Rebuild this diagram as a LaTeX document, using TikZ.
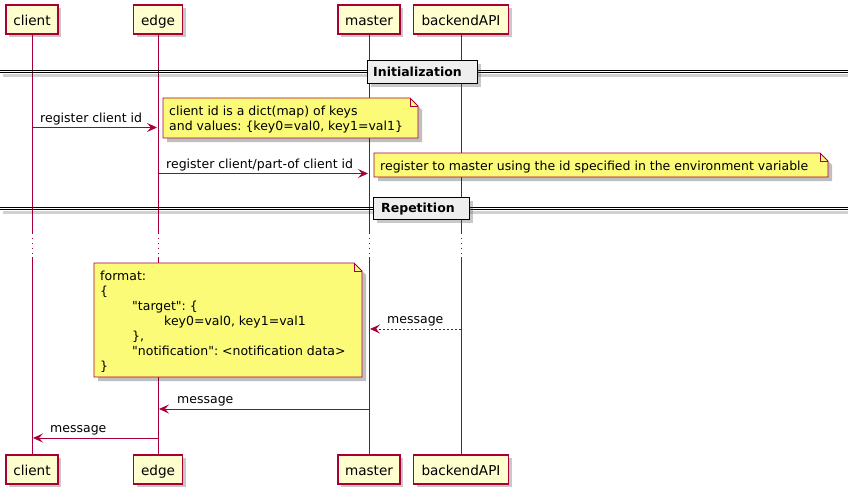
\documentclass[tikz,border=0pt]{standalone}
\usepackage{fontspec}
\setmainfont{DejaVu Sans}[Ligatures=TeXOff]
\usetikzlibrary{arrows.meta,shadows}
\definecolor{pborder}{HTML}{A80036}
\definecolor{pfill}{HTML}{FEFECE}
\definecolor{nfill}{HTML}{FBFB77}
\definecolor{dfill}{HTML}{EEEEEE}
\frenchspacing
\tikzset{
  sh/.style={drop shadow={shadow xshift=3pt, shadow yshift=-3pt, opacity=0.3, fill=black!70}},
  pbox/.style={draw=pborder, line width=1.2pt, fill=pfill, inner sep=0pt, minimum height=29pt,
    text height=12.4pt, text depth=0pt, font=\fontsize{13.6}{16}\selectfont, sh},
  life/.style={draw=pborder, line width=0.9pt},
  dots/.style={life, dash pattern=on 1pt off 4pt},
  msg/.style={draw=pborder, line width=0.9pt, shorten >=1pt, -{Stealth[length=10pt,width=9pt,inset=4pt]}},
  dmsg/.style={msg, dash pattern=on 2pt off 2pt},
  mtext/.style={font=\fontsize{12.5}{15}\selectfont, inner sep=0pt, anchor=base west},
  ntext/.style={font=\fontsize{12.5}{15.2}\selectfont, inner sep=0pt, anchor=base west, align=left},
  divbox/.style={draw=black, line width=1.4pt, fill=dfill, inner sep=0pt, anchor=north west, sh},
  divtext/.style={font=\bfseries\fontsize{12.5}{15}\selectfont, inner sep=0pt, anchor=base west},
  divline/.style={draw=black, line width=1pt},
  notebg/.style={fill=nfill, draw=pborder, line width=0.9pt},
}
\newcommand\plnote[4]{%
  \fill[black, opacity=0.25] ({#1+4},{#2+4}) -- ({#3-8+4},{#2+4}) -- ({#3+4},{#2+8+4}) -- ({#3+4},{#4+4}) -- ({#1+4},{#4+4}) -- cycle;
  \filldraw[notebg] (#1,#2) -- ({#3-8},#2) -- (#3,{#2+8}) -- (#3,#4) -- (#1,#4) -- cycle;
  \draw[pborder, line width=0.9pt] ({#3-8},#2) -- ({#3-8},{#2+8}) -- (#3,{#2+8});
}
\begin{document}
\begin{tikzpicture}[x=1pt,y=-1pt]
\useasboundingbox (0,0) rectangle (848,498);
\fill[white] (0,0) rectangle (848,498);
% participants
\node[pbox, minimum width=52pt] (ct) at (32,19.5) {client};
\node[pbox, minimum width=49pt] (et) at (158,19.5) {edge};
\node[pbox, minimum width=62pt] (mt) at (369,19.5) {master};
\node[pbox, minimum width=95pt] (bt) at (461,19.5) {backendAPI};
\node[pbox, minimum width=52pt] (cb) at (32,469.5) {client};
\node[pbox, minimum width=49pt] (eb) at (158,469.5) {edge};
\node[pbox, minimum width=62pt] (mb) at (369,469.5) {master};
\node[pbox, minimum width=95pt] (bb) at (461,469.5) {backendAPI};
% lifelines
\coordinate (d1) at (0,233);
\coordinate (d2) at (0,257);
\foreach \p/\q in {ct/cb,et/eb,mt/mb,bt/bb} {
  \draw[life] (\p.south) -- (\p.south |- d1);
  \draw[dots] (\p.south |- d1) -- (\p.south |- d2);
  \draw[life] (\p.south |- d2) -- (\q.north);
}
% Initialization divider
\fill[black,opacity=0.18] (3,74.3) rectangle (848,77);
\draw[divline] (0,70.2) -- (848,70.2);
\draw[divline] (0,72.8) -- (848,72.8);
\node[divbox, minimum width=110pt, minimum height=23pt] (ini) at (367,60) {};
\node[divtext] (initxt) at (373,76) {Initialization};
% notes and messages of the first part
\plnote{163}{98}{418}{138}
\node[ntext] (n1) at (169,130.2) {client id is a dict(map) of keys\\and values: \{key0=val0, key1=val1\}};
\coordinate (y1) at (0,127.5);
\draw[msg] (ct.south |- y1) -- (et.south |- y1);
\node[mtext] (l1) at (40,122) {register client id};
\plnote{374}{153}{828}{177}
\node[ntext] (n2) at (380,170) {register to master using the id specified in the environment variable};
\coordinate (y2) at (0,173.5);
\draw[msg] (et.south |- y2) -- (mt.south |- y2);
\node[mtext] (l2) at (166,168) {register client/part-of client id};
% Repetition divider
\fill[black,opacity=0.18] (3,211.3) rectangle (848,214);
\draw[divline] (0,207.2) -- (848,207.2);
\draw[divline] (0,209.8) -- (848,209.8);
\node[divbox, minimum width=96pt, minimum height=22pt] (rep) at (373,197) {};
\node[divtext] (reptxt) at (381,212.5) {Repetition};
% format note
\plnote{94}{263}{362}{377}
\node[ntext, font=\fontsize{12.5}{15}\selectfont] (n3) at (100,370) {format:\\\{\\\hspace*{32pt}"target": \{\\\hspace*{64pt}key0=val0, key1=val1\\\hspace*{32pt}\},\\\hspace*{32pt}"notification": <notification data>\\\}};
% messages
\coordinate (y3) at (0,329);
\draw[dmsg] (bt.south |- y3) -- (mt.south |- y3);
\node[mtext] (l3) at (387,323.5) {message};
\coordinate (y4) at (0,409);
\draw[msg] (mt.south |- y4) -- (et.south |- y4);
\node[mtext] (l4) at (177,403.5) {message};
\coordinate (y5) at (0,438);
\draw[msg] (et.south |- y5) -- (ct.south |- y5);
\node[mtext] (l5) at (50,432.5) {message};
\end{tikzpicture}
\end{document}
